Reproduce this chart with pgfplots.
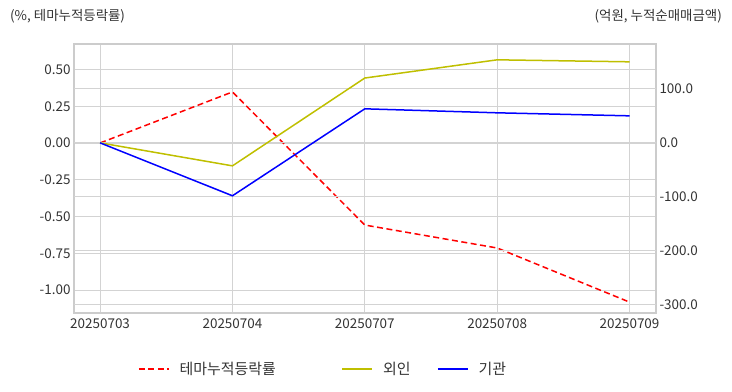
\documentclass[border=0pt]{standalone}
\usepackage{pgfplots}
\pgfplotsset{compat=1.18}
\usepackage{fontspec}
\setmainfont{Noto Sans CJK KR}
\definecolor{txt}{HTML}{333333}
\definecolor{myred}{HTML}{FF0000}
\definecolor{myyel}{HTML}{BFBF00}
\definecolor{myblue}{HTML}{0000FF}
\definecolor{gridc}{HTML}{D3D3D3}
\definecolor{framec}{HTML}{CCCCCC}
\begin{document}
\begin{tikzpicture}
\path[use as bounding box] (0,0) rectangle (732bp,392bp);
\node[anchor=west, text=txt, font=\fontsize{13.5}{15}\selectfont, inner sep=0pt] at (10bp,376bp) {(\%, 테마누적등락률)};
\node[anchor=east, text=txt, font=\fontsize{13.5}{15}\selectfont, inner sep=0pt] at (722bp,376bp) {(억원, 누적순매매금액)};
\begin{axis}[
  at={(74bp,79bp)}, anchor=south west, scale only axis,
  width=582bp, height=269bp,
  xmin=-0.197, xmax=4.2, ymin=-1.156, ymax=0.673,
  xtick={0,1,2,3,4},
  xticklabels={20250703,20250704,20250707,20250708,20250709},
  ytick={-1,-0.75,-0.5,-0.25,0,0.25,0.5},
  yticklabel style={/pgf/number format/.cd, fixed, fixed zerofill, precision=2},
  /pgf/number format/assume math mode=true,
  ytick pos=left, yticklabel pos=left, xtick pos=bottom,
  grid=major, grid style={draw=gridc, line width=0.8bp},
  axis line style={draw=framec, line width=1.2bp},
  major tick length=0pt,
  ticklabel style={font=\fontsize{13.5}{15}\selectfont, text=txt},
  xticklabel style={yshift=-2bp},
  clip=false,
]
\addplot[myred, line width=1.5bp, dash pattern=on 6bp off 3.5bp] coordinates {(0,0) (1,0.347) (2,-0.558) (3,-0.714) (4,-1.082)};
\end{axis}
\begin{axis}[
  at={(74bp,79bp)}, anchor=south west, scale only axis,
  width=582bp, height=269bp,
  xmin=-0.197, xmax=4.2, ymin=-315, ymax=183,
  xtick=\empty,
  ytick={-300,-200,-100,0,100},
  yticklabel style={/pgf/number format/.cd, fixed, fixed zerofill, precision=1},
  /pgf/number format/assume math mode=true,
  ytick pos=right, yticklabel pos=right,
  ymajorgrids, grid style={draw=gridc, line width=0.8bp},
  axis line style={draw=none},
  major tick length=0pt,
  ticklabel style={font=\fontsize{13.5}{15}\selectfont, text=txt},
  legend style={at={(axis description cs:0.11,-0.208)}, anchor=west, draw=none, fill=none,
    font=\fontsize{15}{17}\selectfont, text=txt, inner sep=0pt,
    /tikz/every odd column/.append style={column sep=8bp}},
  legend columns=3,
  legend image code/.code={\draw[#1] (0bp,0bp) -- (30bp,0bp);},
  clip=false,
]
\addlegendimage{myred, line width=1.5bp, dash pattern=on 6bp off 3.5bp}
\addlegendentry{\makebox[160bp][l]{테마누적등락률}}
\addplot[myyel, line width=1.5bp] coordinates {(0,0) (1,-42.6) (2,120) (3,153.7) (4,150)};
\addlegendentry{\makebox[52bp][l]{외인}}
\addplot[myblue, line width=1.5bp] coordinates {(0,0) (1,-98) (2,63) (3,55.6) (4,50)};
\addlegendentry{기관}
\end{axis}
\end{tikzpicture}
\end{document}
